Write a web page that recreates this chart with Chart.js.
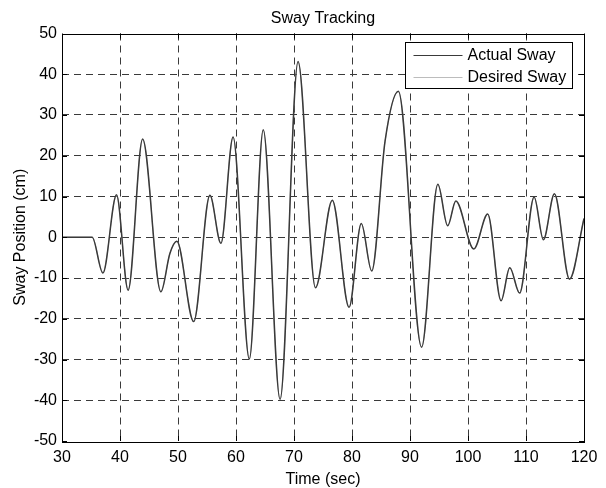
<!DOCTYPE html>
<html>
<head>
<meta charset="utf-8">
<script src="https://cdn.jsdelivr.net/npm/chart.js@4/dist/chart.umd.min.js"></script>
<style>
  html, body { margin: 0; padding: 0; background: #fff; }
  #wrap { width: 606px; height: 488px; }
</style>
</head>
<body>
<div id="wrap"><canvas id="swayChart" width="606" height="488"></canvas></div>
<script>
// values (turning points of the trace)
const timeSec = [30, 35.2, 37.05, 39.4, 41.4, 43.9, 47.05, 48.6, 49.8, 52.7, 55.5, 57.4, 59.5,
  62.3, 64.7, 67.6, 70.7, 73.7, 76.6, 79.5, 81.6, 83.4, 85.7, 88.0, 92.0, 94.8, 96.5, 97.9,
  101.0, 103.4, 105.7, 107.2, 108.9, 111.4, 113.0, 114.9, 117.5, 120];
const actualSway = [0, 0, -8.8, 10.4, -13, 24.1, -13.4, -4, -1, -20.7, 10.3, -1.5, 24.6,
  -29.9, 26.4, -39.8, 43.1, -12.4, 9.1, -17.2, 3.4, -8.3, 23.6, 35.8, -27, 13, 2.8, 8.9,
  -2.9, 5.7, -15.6, -7.5, -13.7, 9.9, -0.6, 10.7, -10.3, 4.6];
const desiredSway = [0, 0, -8.6, 10.2, -12.8, 24.0, -13.3, -4, -1, -20.6, 10.2, -1.4, 24.5,
  -29.8, 26.3, -39.7, 43.0, -12.3, 9.0, -17.1, 3.3, -8.2, 23.5, 35.7, -26.9, 12.9, 2.9, 8.8,
  -2.8, 5.6, -15.5, -7.4, -13.6, 9.8, -0.5, 10.6, -10.2, 4.6];
const xTicks = [30, 40, 50, 60, 70, 80, 90, 100, 110, 120];
const yTicks = [-50, -40, -30, -20, -10, 0, 10, 20, 30, 40, 50];

const FONT = "'Liberation Sans', Arial, Helvetica, sans-serif";

function toPoints(xs, ys) {
  return xs.map((x, i) => ({ x: x, y: ys[i] }));
}

// frame, inward tick marks and boxed legend, MATLAB style
const matlabFrame = {
  id: "matlabFrame",
  afterDraw(chart) {
    const { ctx, chartArea: a, scales } = chart;
    ctx.save();
    ctx.strokeStyle = "#000";
    ctx.lineWidth = 1;
    ctx.setLineDash([]);
    ctx.strokeRect(Math.round(a.left) + 0.5, Math.round(a.top) + 0.5,
      Math.round(a.right - a.left), Math.round(a.bottom - a.top));
    const tl = 5;
    ctx.beginPath();
    xTicks.forEach(v => {
      const px = Math.round(scales.x.getPixelForValue(v)) + 0.5;
      ctx.moveTo(px, a.bottom); ctx.lineTo(px, a.bottom - tl);
      ctx.moveTo(px, a.top); ctx.lineTo(px, a.top + tl);
    });
    yTicks.forEach(v => {
      const py = Math.round(scales.y.getPixelForValue(v)) + 0.5;
      ctx.moveTo(a.left, py); ctx.lineTo(a.left + tl, py);
      ctx.moveTo(a.right, py); ctx.lineTo(a.right - tl, py);
    });
    ctx.stroke();

    // legend
    const bx = 405.5, by = 42.5, bw = 167, bh = 46;
    ctx.fillStyle = "#fff";
    ctx.fillRect(bx, by, bw, bh);
    ctx.strokeStyle = "#000";
    ctx.strokeRect(bx, by, bw, bh);
    ctx.font = "16px " + FONT;
    ctx.textBaseline = "middle";
    ctx.textAlign = "left";
    chart.data.datasets.forEach((ds, i) => {
      const y = by + 12.5 + i * 21.5;
      ctx.strokeStyle = ds.borderColor;
      ctx.lineWidth = 1;
      ctx.beginPath();
      ctx.moveTo(bx + 8, Math.round(y) + 0.5);
      ctx.lineTo(bx + 57, Math.round(y) + 0.5);
      ctx.stroke();
      ctx.fillStyle = "#000";
      ctx.fillText(ds.label, bx + 62, y + 1);
    });
    ctx.restore();
  }
};

// dashed grid, skipped on the frame edges
function gridFor(lo, hi) {
  return {
    color: c => (c.tick && (c.tick.value === lo || c.tick.value === hi)) ? "rgba(0,0,0,0)" : "#3a3a3a",
    lineWidth: 1,
    drawTicks: false
  };
}

new Chart(document.getElementById("swayChart"), {
  type: "line",
  data: {
    datasets: [
      { label: "Actual Sway", data: toPoints(timeSec, actualSway), borderColor: "#3a3a3a",
        borderWidth: 1.5, pointRadius: 0, cubicInterpolationMode: "monotone", fill: false },
      { label: "Desired Sway", data: toPoints(timeSec, desiredSway), borderColor: "#bcbcbc",
        borderWidth: 1, pointRadius: 0, cubicInterpolationMode: "monotone", fill: false }
    ]
  },
  options: {
    responsive: false,
    animation: false,
    layout: { padding: { left: 0, right: 22, top: 0, bottom: 0 } },
    plugins: {
      legend: { display: false },
      tooltip: { enabled: false },
      title: {
        display: true,
        text: "Sway Tracking",
        fullSize: false,
        color: "#000",
        font: { family: FONT, size: 16, weight: "normal" },
        padding: { top: 8.5, bottom: 5.8 }
      }
    },
    scales: {
      x: {
        type: "linear",
        min: 30, max: 120,
        afterBuildTicks: s => { s.ticks = xTicks.map(v => ({ value: v })); },
        afterFit: s => { s.height = 47; },
        grid: gridFor(30, 120),
        border: { display: false, dash: [7, 5] },
        ticks: { color: "#000", padding: 7, maxRotation: 0, font: { family: FONT, size: 16 } },
        title: { display: true, text: "Time (sec)", color: "#000",
          font: { family: FONT, size: 16, lineHeight: 1 }, padding: { top: 0, bottom: 0 } }
      },
      y: {
        type: "linear",
        min: -50, max: 50,
        afterBuildTicks: s => { s.ticks = yTicks.map(v => ({ value: v })); },
        afterFit: s => { s.width = 62; },
        grid: gridFor(-50, 50),
        border: { display: false, dash: [7, 5] },
        ticks: { color: "#000", padding: 5, font: { family: FONT, size: 16 } },
        title: { display: true, text: "Sway Position (cm)", color: "#000",
          font: { family: FONT, size: 16 }, padding: { top: 11, bottom: 0 } }
      }
    }
  },
  plugins: [matlabFrame]
});
</script>
</body>
</html>
